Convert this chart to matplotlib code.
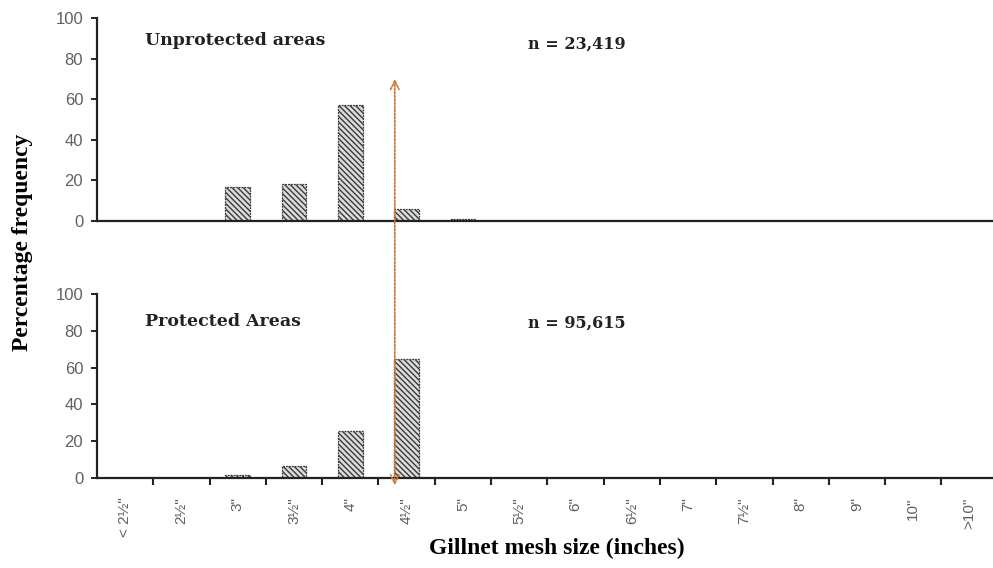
import matplotlib
matplotlib.use("Agg")
import matplotlib.pyplot as plt
from matplotlib.patches import ConnectionPatch
import numpy as np

# mesh size classes (inches)
mesh_labels = ['< 2½"', '2½"', '3"', '3½"', '4"', '4½"', '5"', '5½"',
               '6"', '6½"', '7"', '7½"', '8"', '9"', '10"', '>10"']
unprotected_pct = [0, 0, 16.9, 18.0, 57.3, 5.8, 0.8, 0, 0, 0, 0, 0, 0, 0, 0, 0]
protected_pct = [0, 0, 1.4, 6.5, 25.3, 64.5, 0, 0, 0, 0, 0, 0, 0, 0, 0, 0]
unprotected_n = "n = 23,419"
protected_n = "n = 95,615"
legal_limit_pos = 4.79   # arrow drawn at the 4½" class
arrow_top, arrow_bottom = 70, -4

serif = "Liberation Serif"
sans = "Liberation Sans"
tick_grey = "#606060"

fig = plt.figure(figsize=(9.93, 5.68), dpi=100)
ax_top = fig.add_axes([0.0977, 0.6109, 0.907, 0.3574])
ax_bot = fig.add_axes([0.0977, 0.1585, 0.907, 0.3239])

x = np.arange(len(mesh_labels))


def style_panel(ax, values, title, n_text, show_x, title_y, n_y):
    ax.bar(x, values, width=0.44, facecolor="#dcdcdc", edgecolor="#3a3a3a",
           hatch="\\\\\\\\\\\\", linewidth=0.9, linestyle=(0, (1.5, 0.8)))
    ax.set_xlim(-0.5, len(mesh_labels) - 0.5)
    ax.set_ylim(0, 100)
    ax.set_yticks(np.arange(0, 101, 20))
    for side in ["top", "right"]:
        ax.spines[side].set_visible(False)
    ax.spines["left"].set_linewidth(1.6)
    ax.spines["bottom"].set_linewidth(1.6)
    ax.spines["left"].set_color("#222222")
    ax.spines["bottom"].set_color("#222222")
    ax.tick_params(axis="y", labelsize=12, colors="#222222", labelcolor=tick_grey,
                   length=4, width=1.4, direction="out", pad=6)
    for lab in ax.get_yticklabels():
        lab.set_fontfamily(sans)
    if show_x:
        ax.set_xticks(x)
        ax.set_xticklabels(mesh_labels, rotation=90, fontsize=11,
                           color=tick_grey, family=sans)
        ax.set_xticks(np.arange(0.5, len(mesh_labels) - 0.5, 1), minor=True)
        ax.tick_params(axis="x", which="major", length=0, pad=14)
        ax.tick_params(axis="x", which="minor", length=5, width=1.5,
                       color="#222222", direction="out")
    else:
        ax.set_xticks([])
    ax.text(0.053, title_y, title, transform=ax.transAxes, family="DejaVu Serif",
            fontweight="bold", fontsize=12.5, color="#222222", va="center")
    ax.text(0.478, n_y, n_text, transform=ax.transAxes, family="DejaVu Serif",
            fontweight="bold", fontsize=11.5, color="#222222", va="center")


style_panel(ax_top, unprotected_pct, "Unprotected areas", unprotected_n, False,
            0.89, 0.87)
style_panel(ax_bot, protected_pct, "Protected Areas", protected_n, True,
            0.848, 0.842)

arrow = ConnectionPatch(xyA=(legal_limit_pos, arrow_top), coordsA=ax_top.transData,
                        xyB=(legal_limit_pos, arrow_bottom), coordsB=ax_bot.transData,
                        arrowstyle="<->,head_length=0.6,head_width=0.3",
                        color="#cc7a3a", linewidth=1.3, linestyle=(0, (1, 1)),
                        zorder=5)
fig.add_artist(arrow)

fig.text(0.023, 0.574, "Percentage frequency", rotation=90, family=serif,
         fontweight="bold", fontsize=17, ha="center", va="center")
fig.text(0.561, 0.035, "Gillnet mesh size (inches)", family=serif,
         fontweight="bold", fontsize=17, ha="center", va="center")

fig.savefig("out.png", dpi=100)
